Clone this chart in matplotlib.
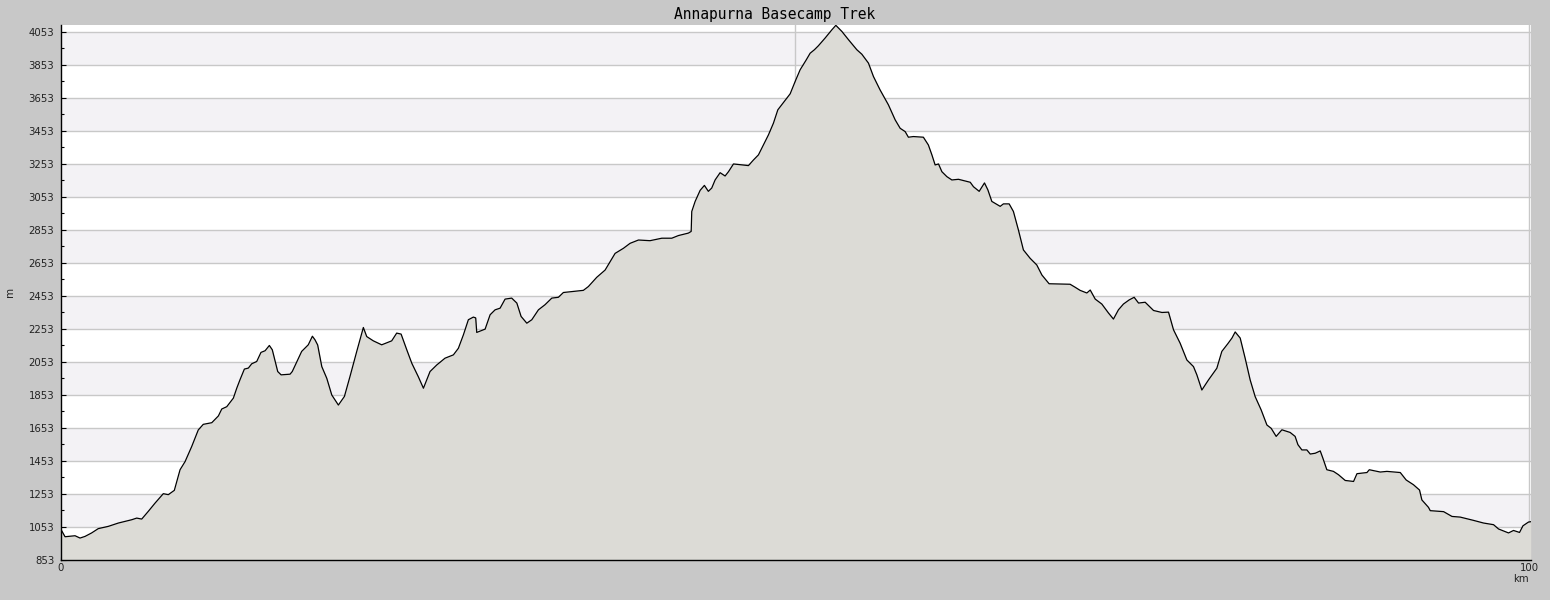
import matplotlib
matplotlib.use("Agg")
import matplotlib.pyplot as plt
from matplotlib.ticker import FixedLocator

title = "Annapurna Basecamp Trek"
x_label = "km"
y_label = "m"

distance_km = [
    0.00, 0.02, 0.31, 0.99, 1.33, 1.67, 2.12, 2.57, 3.26, 3.94, 4.85, 5.19, 5.53, 5.98, 6.44,
    7.00, 7.34, 7.75, 8.14, 8.48, 8.93, 9.38, 9.72, 10.30, 10.75, 10.98, 11.32, 11.77, 12.00,
    12.22, 12.52, 12.79, 13.02, 13.36, 13.65, 13.93, 14.22, 14.42, 14.79, 15.02, 15.63, 15.78,
    16.42, 16.87, 17.15, 17.33, 17.51, 17.79, 18.13, 18.47, 18.92, 19.33, 19.71, 20.17, 20.62,
    20.85, 21.30, 21.87, 22.55, 22.89, 23.19, 23.58, 23.92, 24.36, 24.71, 25.16, 25.62, 26.18,
    26.75, 27.09, 27.43, 27.77, 28.11, 28.27, 28.34, 28.91, 29.25, 29.59, 29.93, 30.27, 30.72,
    31.07, 31.36, 31.75, 32.09, 32.54, 32.99, 33.45, 33.90, 34.24, 35.60, 35.94, 36.51, 37.08,
    37.42, 37.76, 38.33, 38.78, 39.35, 40.14, 40.94, 41.62, 42.07, 42.75, 42.94, 42.98, 43.21,
    43.55, 43.84, 44.11, 44.34, 44.57, 44.91, 45.25, 45.48, 45.82, 46.84, 47.18, 47.52, 47.86,
    48.20, 48.54, 48.84, 49.22, 49.68, 50.02, 50.36, 50.75, 51.04, 51.33, 51.60, 52.06, 52.52,
    52.79, 53.20, 53.65, 54.22, 54.56, 55.01, 55.35, 55.80, 56.37, 56.83, 57.17, 57.51, 57.73,
    58.07, 58.75, 59.09, 59.33, 59.55, 59.78, 60.01, 60.35, 60.69, 61.14, 61.94, 62.16, 62.55,
    62.91, 63.14, 63.41, 63.98, 64.20, 64.59, 64.88, 65.22, 65.56, 66.02, 66.47, 66.82, 67.31,
    68.74, 69.08, 69.42, 69.88, 70.11, 70.45, 70.90, 71.35, 71.69, 72.03, 72.37, 72.76, 73.10,
    73.40, 73.85, 74.42, 74.99, 75.44, 75.78, 76.23, 76.69, 77.14, 77.37, 77.71, 78.16, 78.73,
    79.07, 79.48, 79.76, 79.98, 80.32, 80.66, 81.00, 81.34, 81.75, 82.14, 82.43, 82.77, 83.16,
    83.72, 84.06, 84.25, 84.52, 84.86, 85.09, 85.43, 85.77, 85.95, 86.22, 86.67, 87.01, 87.47,
    88.04, 88.27, 88.95, 89.11, 89.86, 90.31, 91.22, 91.62, 92.12, 92.53, 92.69, 93.14, 93.26,
    94.17, 94.74, 95.30, 96.21, 96.89, 97.57, 97.91, 98.59, 98.93, 99.34, 99.57, 99.95, 100.10,
]

elevation_m = [
    860, 1040, 994, 1000, 986, 996, 1017, 1043, 1057, 1077, 1097, 1107, 1101, 1148, 1198,
    1255, 1249, 1275, 1400, 1449, 1540, 1641, 1675, 1685, 1726, 1768, 1782, 1834, 1894,
    1945, 2010, 2016, 2042, 2056, 2111, 2121, 2153, 2127, 1995, 1975, 1979, 1995,
    2117, 2157, 2209, 2187, 2156, 2025, 1954, 1853, 1792, 1844, 1965, 2117, 2262,
    2207, 2181, 2157, 2181, 2228, 2222, 2126, 2045, 1964, 1894, 1995, 2035, 2076,
    2096, 2136, 2217, 2309, 2325, 2320, 2232, 2252, 2339, 2369, 2379, 2434, 2440,
    2410, 2329, 2288, 2309, 2369, 2400, 2440, 2445, 2474, 2487, 2510, 2566, 2610,
    2661, 2711, 2742, 2772, 2792, 2788, 2803, 2803, 2819, 2834, 2844, 2965, 3026,
    3093, 3123, 3087, 3107, 3156, 3200, 3180, 3206, 3253, 3243, 3277, 3308, 3368,
    3429, 3500, 3581, 3625, 3678, 3753, 3824, 3880, 3924, 3945, 3969, 4016, 4066,
    4093, 4056, 4006, 3945, 3918, 3864, 3783, 3702, 3611, 3520, 3469, 3449, 3415,
    3419, 3415, 3368, 3308, 3247, 3253, 3206, 3176, 3156, 3160, 3142, 3115, 3087,
    3138, 3096, 3026, 2996, 3011, 3011, 2965, 2853, 2732, 2681, 2641, 2580, 2527,
    2524, 2506, 2487, 2471, 2489, 2434, 2404, 2350, 2313, 2369, 2404, 2429, 2445,
    2410, 2415, 2365, 2353, 2355, 2248, 2167, 2065, 2025, 1975, 1883, 1944, 2015,
    2117, 2164, 2198, 2235, 2198, 2075, 1944, 1843, 1762, 1671, 1651, 1602, 1642,
    1626, 1602, 1552, 1520, 1520, 1495, 1500, 1514, 1470, 1400, 1390, 1370, 1335,
    1329, 1376, 1383, 1400, 1386, 1390, 1383, 1338, 1309, 1277, 1217, 1172, 1152,
    1146, 1117, 1113, 1093, 1077, 1067, 1041, 1017, 1032, 1020, 1060, 1083, 1085,
]

y_min, y_max = 853, 4095
x_min, x_max = 0, 100.12
y_major_ticks = list(range(853, 4054, 200))
x_tick_labels = {0: "0", 100: "100"}

fig = plt.figure(figsize=(15.5, 6.0), dpi=100, facecolor="#c8c8c8")
ax = fig.add_axes([60.5 / 1550, 40 / 600, (1531 - 60.5) / 1550, 535 / 600])
ax.set_facecolor("white")

# alternating bands
for lo in range(1053, 4053, 400):
    ax.axhspan(lo, lo + 200, color="#f3f2f5", lw=0, zorder=0)
# grid lines
for yv in y_major_ticks[1:]:
    ax.axhline(yv, color="#c8c8c8", lw=1.0, zorder=1)
for xv in (50, 100):
    ax.axvline(xv, color="#c8c8c8", lw=1.0, zorder=1)

ax.fill_between(distance_km, elevation_m, y_min, color="#dcdbd6", lw=0, zorder=2)
ax.plot(distance_km, elevation_m, color="black", lw=0.9, zorder=3)

ax.set_xlim(x_min, x_max)
ax.set_ylim(y_min, y_max)

for s in ("top", "right"):
    ax.spines[s].set_visible(False)
for s in ("left", "bottom"):
    ax.spines[s].set_color("black")
    ax.spines[s].set_linewidth(1.0)
    ax.spines[s].set_zorder(5)

ax.yaxis.set_major_locator(FixedLocator(y_major_ticks))
ax.yaxis.set_minor_locator(FixedLocator([v + 100 for v in y_major_ticks[:-1]]))
ax.set_yticklabels([str(v) for v in y_major_ticks])
ax.tick_params(axis="y", which="major", direction="in", length=3.6, width=0.8,
               labelsize=7.3, pad=4.5, colors="black", labelcolor="#222222")
ax.tick_params(axis="y", which="minor", direction="in", length=2.2, width=0.8, colors="black")

xt = list(range(0, 101, 10))
ax.xaxis.set_major_locator(FixedLocator(xt))
ax.set_xticklabels([x_tick_labels.get(v, "") for v in xt])
ax.tick_params(axis="x", which="major", direction="in", length=2.4, width=0.8,
               labelsize=7.3, pad=2.0, colors="black", labelcolor="#222222")

ax.text(100, -0.027, x_label, transform=ax.get_xaxis_transform(), ha="right", va="top",
        fontsize=7.3, color="#222222")
fig.text(10 / 1550, 1 - 292 / 600, y_label, rotation=90, ha="center", va="center",
         fontsize=7.5, color="#222222")
fig.text(775 / 1550, 1 - 14 / 600, title, ha="center", va="center",
         fontsize=10.5, family="DejaVu Sans Mono", color="black")

fig.savefig("out.png", dpi=100, facecolor=fig.get_facecolor())
